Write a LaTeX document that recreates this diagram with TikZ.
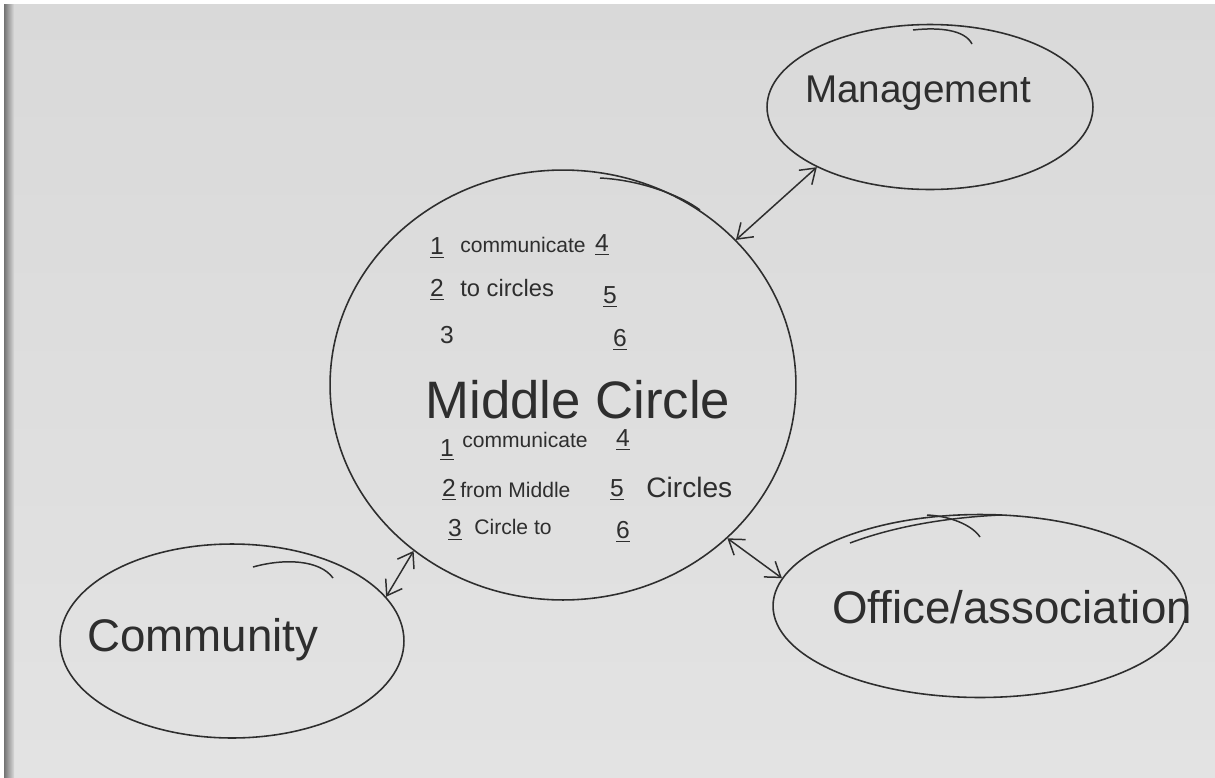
\documentclass[tikz,border=0pt]{standalone}
\usepackage{fontspec}
\setmainfont{Liberation Sans}
\usetikzlibrary{shapes.geometric,arrows.meta}
\definecolor{paper}{HTML}{D9D9D9}
\definecolor{paperlow}{HTML}{E3E3E3}
\definecolor{ink}{HTML}{2E2E2E}
\tikzset{
  bubble/.style={ellipse, draw=ink, line width=0.9pt, inner sep=0pt},
  link/.style={draw=ink, line width=0.85pt, {Straight Barb[length=8pt,width=11pt]}-{Straight Barb[length=8pt,width=11pt]}},
  penstroke/.style={draw=ink, line width=0.85pt},
  biglabel/.style={text=ink, inner sep=0pt},
  titlelabel/.style={text=ink, font=\fontsize{30}{34}\selectfont, inner sep=0pt},
  smalltext/.style={text=ink, font=\fontsize{12}{14}\selectfont, inner sep=0pt, anchor=west},
  numtext/.style={text=ink, font=\fontsize{14}{16}\selectfont, inner sep=0pt},
}
\begin{document}
\begin{tikzpicture}[x=0.02cm,y=-0.02cm]
\useasboundingbox (0,0) rectangle (1215,778);
\shade[top color=paper, bottom color=paperlow] (0,0) rectangle (1215,778);
\fill[white] (0,0) rectangle (1215,4);
\fill[white] (0,0) rectangle (4,778);
\shade[left color=black!55, right color=paper] (4,4) rectangle (14,778);

% bubbles
\node[bubble, minimum width=9.32cm, minimum height=8.6cm] (mc) at (563,385) {};
\node[bubble, minimum width=6.52cm, minimum height=3.3cm] (mgmt) at (930,107) {};
\node[bubble, minimum width=6.88cm, minimum height=3.88cm] (comm) at (232,641) {};
\node[bubble, minimum width=8.28cm, minimum height=3.66cm] (office) at (980,606) {};

% extra pen strokes
\draw[penstroke] (913,30) .. controls (940,27) and (965,30) .. (972,44);
\draw[penstroke] (600,178) .. controls (640,180) and (680,195) .. (700,210);
\draw[penstroke] (850,543) .. controls (890,528) and (940,518) .. (1000,515);
\draw[penstroke] (927,515) .. controls (950,516) and (972,525) .. (980,537);
\draw[penstroke] (253,567) .. controls (285,558) and (320,560) .. (333,578);

% labels
\node[biglabel, font=\fontsize{22}{26}\selectfont] (lmgmt) at (918,93) {Management};
\node[biglabel, font=\fontsize{26}{30}\selectfont] (lcomm) at (203,640) {Community};
\node[biglabel, font=\fontsize{26}{30}\selectfont] (loffice) at (1012,607) {Office/association};

% top block
\node[numtext] (t1) at (437,248) {\underline{1}};
\node[smalltext] (tw1) at (460,245) {communicate};
\node[numtext] (t4) at (602,245) {\underline{4}};
\node[numtext] (t2) at (437,290) {\underline{2}};
\node[smalltext, font=\fontsize{13.5}{15}\selectfont] (tw2) at (460,288) {to circles};
\node[numtext] (t5) at (610,297) {\underline{5}};
\node[numtext] (t3) at (447,335) {3};
\node[numtext] (t6) at (620,340) {\underline{6}};

% title
\node[titlelabel] (title) at (578,400) {Middle Circle};

% bottom block
\node[numtext] (b1) at (447,450) {\underline{1}};
\node[smalltext] (bw1) at (462,440) {communicate};
\node[numtext] (b4) at (623,440) {\underline{4}};
\node[numtext] (b2) at (449,490) {\underline{2}};
\node[smalltext] (bw2) at (460,490) {from Middle};
\node[numtext] (b5) at (617,490) {\underline{5}};
\node[smalltext, font=\fontsize{16}{18}\selectfont] (bw5) at (646,487) {Circles};
\node[numtext] (b3) at (455,530) {\underline{3}};
\node[smalltext] (bw3) at (474,527) {Circle to};
\node[numtext] (b6) at (623,532) {\underline{6}};

% connectors
\draw[link] (mc.40) -- (mgmt.208);
\draw[link] (mc.228) -- (comm.16);
\draw[link] (mc.-43) -- (office.172);
\end{tikzpicture}
\end{document}
